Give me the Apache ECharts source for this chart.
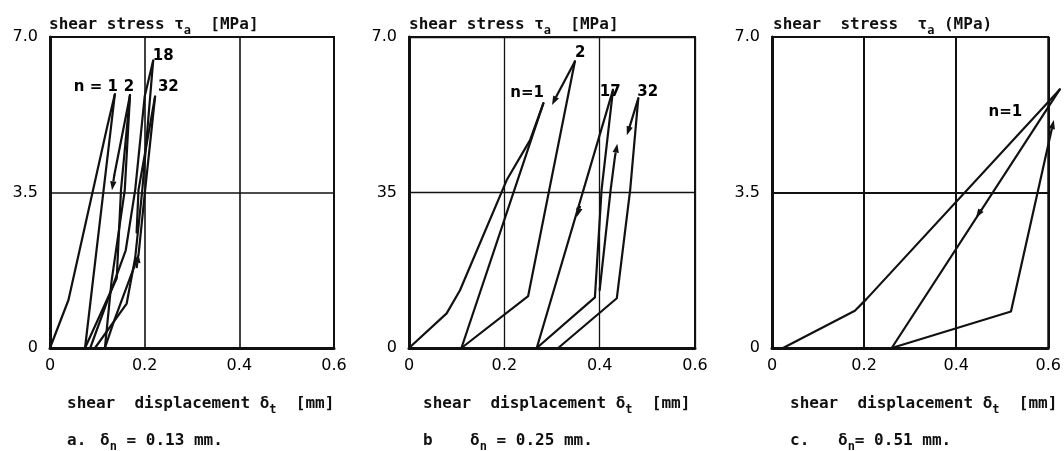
<!DOCTYPE html>
<html>
<head>
<meta charset="utf-8">
<script src="https://cdn.jsdelivr.net/npm/echarts@6/dist/echarts.min.js"></script>
<style>
  html, body { margin: 0; padding: 0; background: #fff; }
  #chart { width: 1064px; height: 451px; }
</style>
</head>
<body>
<div id="chart"></div>
<script>
// ---- tick labels ----
const xTickLabels = ['0', '0.2', '0.4', '0.6'];
const yTickLabelsA = ['0', '3.5', '7.0'];
const yTickLabelsB = ['0', '35', '7.0'];
const yTickLabelsC = ['0', '3.5', '7.0'];

// ---- panel a: δn = 0.13 mm  (shear displacement mm, shear stress MPa) ----
const aCycle1Load    = [[0, 0], [0.039, 1.08], [0.12, 4.94], [0.137, 5.71]];
const aCycle1Unload  = [[0.137, 5.71], [0.074, 0]];
const aCycle2Load    = [[0.074, 0], [0.141, 1.57], [0.15, 3.56], [0.169, 5.69]];
const aCycle2Unload  = [[0.169, 5.69], [0.158, 3.56], [0.13, 1.5], [0.116, 0]];
const aCycle2Return  = [[0.169, 5.69], [0.136, 3.9]];
const aCycle18Load   = [[0.095, 0], [0.162, 1.0], [0.18, 2.03], [0.195, 3.56], [0.218, 6.47]];
const aCycle18Unload = [[0.218, 6.47], [0.2, 5.66], [0.18, 3.56], [0.16, 2.2], [0.085, 0]];
const aCycle32Load   = [[0.116, 0], [0.135, 0.6], [0.187, 2.09], [0.201, 3.56], [0.222, 5.66]];
const aCycle32Unload = [[0.222, 5.66], [0.187, 3.56], [0.183, 2.6]];
const aArrows = [[0.136, 3.9, 0.131, 3.55], [0.183, 1.8, 0.187, 2.12]];
const aLabels = [[0.097, 5.88, 'n = 1'], [0.167, 5.88, '2'], [0.239, 6.56, '18'], [0.25, 5.88, '32']];

// ---- panel b: δn = 0.25 mm ----
const bCycle1Load    = [[0, 0], [0.079, 0.78], [0.107, 1.3], [0.205, 3.78], [0.254, 4.68], [0.282, 5.51]];
const bCycle1Unload  = [[0.282, 5.51], [0.11, 0]];
const bCycle2Load    = [[0.11, 0], [0.25, 1.17], [0.292, 3.44], [0.348, 6.45]];
const bCycle2Unload  = [[0.348, 6.45], [0.309, 5.66]];
const bCycle17Load   = [[0.268, 0], [0.39, 1.14], [0.404, 3.56], [0.428, 5.81]];
const bCycle17Unload = [[0.428, 5.81], [0.268, 0]];
const bCycle17Tail   = [[0.40, 1.3], [0.423, 3.56], [0.432, 4.3]];
const bCycle32Load   = [[0.313, 0], [0.436, 1.12], [0.464, 3.56], [0.481, 5.62]];
const bCycle32Unload = [[0.481, 5.62], [0.462, 4.95]];
const bArrows = [[0.309, 5.66, 0.30, 5.47], [0.359, 3.2, 0.352, 2.95], [0.432, 4.3, 0.437, 4.6], [0.462, 4.95, 0.457, 4.79]];
const bLabels = [[0.248, 5.74, 'n=1'], [0.359, 6.64, '2'], [0.422, 5.77, '17'], [0.501, 5.77, '32']];

// ---- panel c: δn = 0.51 mm ----
const cCycle1Load   = [[0.024, 0], [0.18, 0.84], [0.205, 1.1], [0.625, 5.82]];
const cCycle1Unload = [[0.625, 5.82], [0.26, 0]];
const cCycle2Load   = [[0.26, 0], [0.519, 0.82], [0.607, 4.9]];
const cArrows = [[0.455, 3.12, 0.443, 2.93], [0.607, 4.9, 0.612, 5.13]];
const cLabels = [[0.507, 5.32, 'n=1']];

const INK = '#111';
const SANS = 'DejaVu Sans';
const MONO = 'DejaVu Sans Mono';

const grids = [
  { left: 50, top: 37, width: 284, height: 311 },
  { left: 409, top: 37, width: 286, height: 311 },
  { left: 772, top: 37, width: 279, height: 311 }
];
const gridLineWidth = [1.6, 1.3, 2];
const yTickSets = [yTickLabelsA, yTickLabelsB, yTickLabelsC];

const panels = [
  { lines: [aCycle1Load, aCycle1Unload, aCycle2Load, aCycle2Unload, aCycle2Return, aCycle18Load, aCycle18Unload, aCycle32Load, aCycle32Unload], arrows: aArrows, labels: aLabels },
  { lines: [bCycle1Load, bCycle1Unload, bCycle2Load, bCycle2Unload, bCycle17Load, bCycle17Unload, bCycle17Tail, bCycle32Load, bCycle32Unload], arrows: bArrows, labels: bLabels },
  { lines: [cCycle1Load, cCycle1Unload, cCycle2Load], arrows: cArrows, labels: cLabels }
];

// polylines: each data item is one [x, y] vertex; the whole path is drawn once per series
function pathSeries(i, pts) {
  return {
    type: 'custom', xAxisIndex: i, yAxisIndex: i, data: pts, clip: false, silent: true, z: 3,
    encode: { x: 0, y: 1 },
    renderItem: (params, api) => {
      if (params.dataIndex !== 0) return null;
      return {
        type: 'polyline',
        shape: { points: pts.map(p => api.coord(p)) },
        style: { stroke: INK, lineWidth: 2.2, fill: null, lineJoin: 'round', lineCap: 'round' }
      };
    }
  };
}

// arrows: [x1, y1, x2, y2], head drawn at the second point
function arrowSeries(i, list) {
  return {
    type: 'custom', xAxisIndex: i, yAxisIndex: i, data: list, clip: false, silent: true, z: 4,
    encode: { x: [0, 2], y: [1, 3] },
    renderItem: (params, api) => {
      const a = list[params.dataIndex];
      const p1 = api.coord([a[0], a[1]]);
      const p2 = api.coord([a[2], a[3]]);
      const dx = p2[0] - p1[0], dy = p2[1] - p1[1];
      const len = Math.sqrt(dx * dx + dy * dy) || 1;
      const ux = dx / len, uy = dy / len;
      const hl = 9, hw = 3.2;
      const bx = p2[0] - ux * hl, by = p2[1] - uy * hl;
      return {
        type: 'group',
        children: [
          { type: 'line', shape: { x1: p1[0], y1: p1[1], x2: bx, y2: by }, style: { stroke: INK, lineWidth: 2.2 } },
          { type: 'polygon', shape: { points: [p2, [bx - uy * hw, by + ux * hw], [bx + uy * hw, by - ux * hw]] }, style: { fill: INK } }
        ]
      };
    }
  };
}

const series = [];
panels.forEach((p, i) => {
  p.lines.forEach(pts => series.push(pathSeries(i, pts)));
  series.push(arrowSeries(i, p.arrows));
  series.push({
    type: 'scatter', xAxisIndex: i, yAxisIndex: i, data: p.labels,
    symbolSize: 0, silent: true, clip: false, z: 5,
    itemStyle: { opacity: 1 },
    label: {
      show: true, position: 'inside', color: '#000', opacity: 1,
      fontFamily: SANS, fontSize: 15, fontWeight: 'bold',
      formatter: prm => prm.value[2]
    }
  });
});

const xAxes = grids.map((g, i) => ({
  type: 'value', gridIndex: i, min: 0, max: 0.6, interval: 0.2,
  axisLine: { show: true, onZero: false, lineStyle: { color: INK, width: 3 } },
  axisTick: { show: false },
  splitLine: { show: true, lineStyle: { color: INK, width: gridLineWidth[i] } },
  axisLabel: {
    margin: 10, color: '#000', fontFamily: SANS, fontSize: 16,
    formatter: v => xTickLabels[Math.round(v / 0.2)]
  }
}));
const yAxes = grids.map((g, i) => ({
  type: 'value', gridIndex: i, min: 0, max: 7, interval: 3.5,
  axisLine: { show: true, onZero: false, lineStyle: { color: INK, width: 3 } },
  axisTick: { show: false },
  splitLine: { show: true, lineStyle: { color: INK, width: gridLineWidth[i] } },
  axisLabel: {
    margin: 12, color: '#000', fontFamily: SANS, fontSize: 16,
    formatter: v => yTickSets[i][Math.round(v / 3.5)]
  }
}));

// rich-text styles: main text plus a lowered subscript
const rich = {
  m: { fontFamily: MONO, fontSize: 16, fontWeight: 'bold', fill: INK },
  s: { fontFamily: MONO, fontSize: 12, fontWeight: 'bold', fill: INK, padding: [12, 0, 0, 0] }
};
function txt(x, y, text) {
  return { type: 'text', x: x, y: y, silent: true,
    style: { text: text, rich: rich, fill: INK, font: 'bold 16px ' + MONO, verticalAlign: 'middle', align: 'left' } };
}

const graphic = [
  txt(49, 25, '{m|shear stress τ}{s|a}{m|  [MPa]}'),
  txt(409, 25, '{m|shear stress τ}{s|a}{m|  [MPa]}'),
  txt(773, 25, '{m|shear  stress  τ}{s|a}{m| (MPa)}'),
  txt(67, 404, '{m|shear  displacement δ}{s|t}{m|  [mm]}'),
  txt(423, 404, '{m|shear  displacement δ}{s|t}{m|  [mm]}'),
  txt(790, 404, '{m|shear  displacement δ}{s|t}{m|  [mm]}'),
  txt(67, 441, '{m|a.}'),
  txt(100, 441, '{m|δ}{s|n}{m| = 0.13 mm.}'),
  txt(423, 441, '{m|b}'),
  txt(470, 441, '{m|δ}{s|n}{m| = 0.25 mm.}'),
  txt(790, 441, '{m|c.}'),
  txt(838, 441, '{m|δ}{s|n}{m|= 0.51 mm.}')
];

const chart = echarts.init(document.getElementById('chart'), null, { renderer: 'canvas' });
chart.setOption({
  animation: false,
  backgroundColor: '#fff',
  grid: grids.map(g => Object.assign({ show: true, borderColor: INK, borderWidth: 2, backgroundColor: 'transparent' }, g)),
  xAxis: xAxes,
  yAxis: yAxes,
  series: series,
  graphic: graphic
});
</script>
</body>
</html>
